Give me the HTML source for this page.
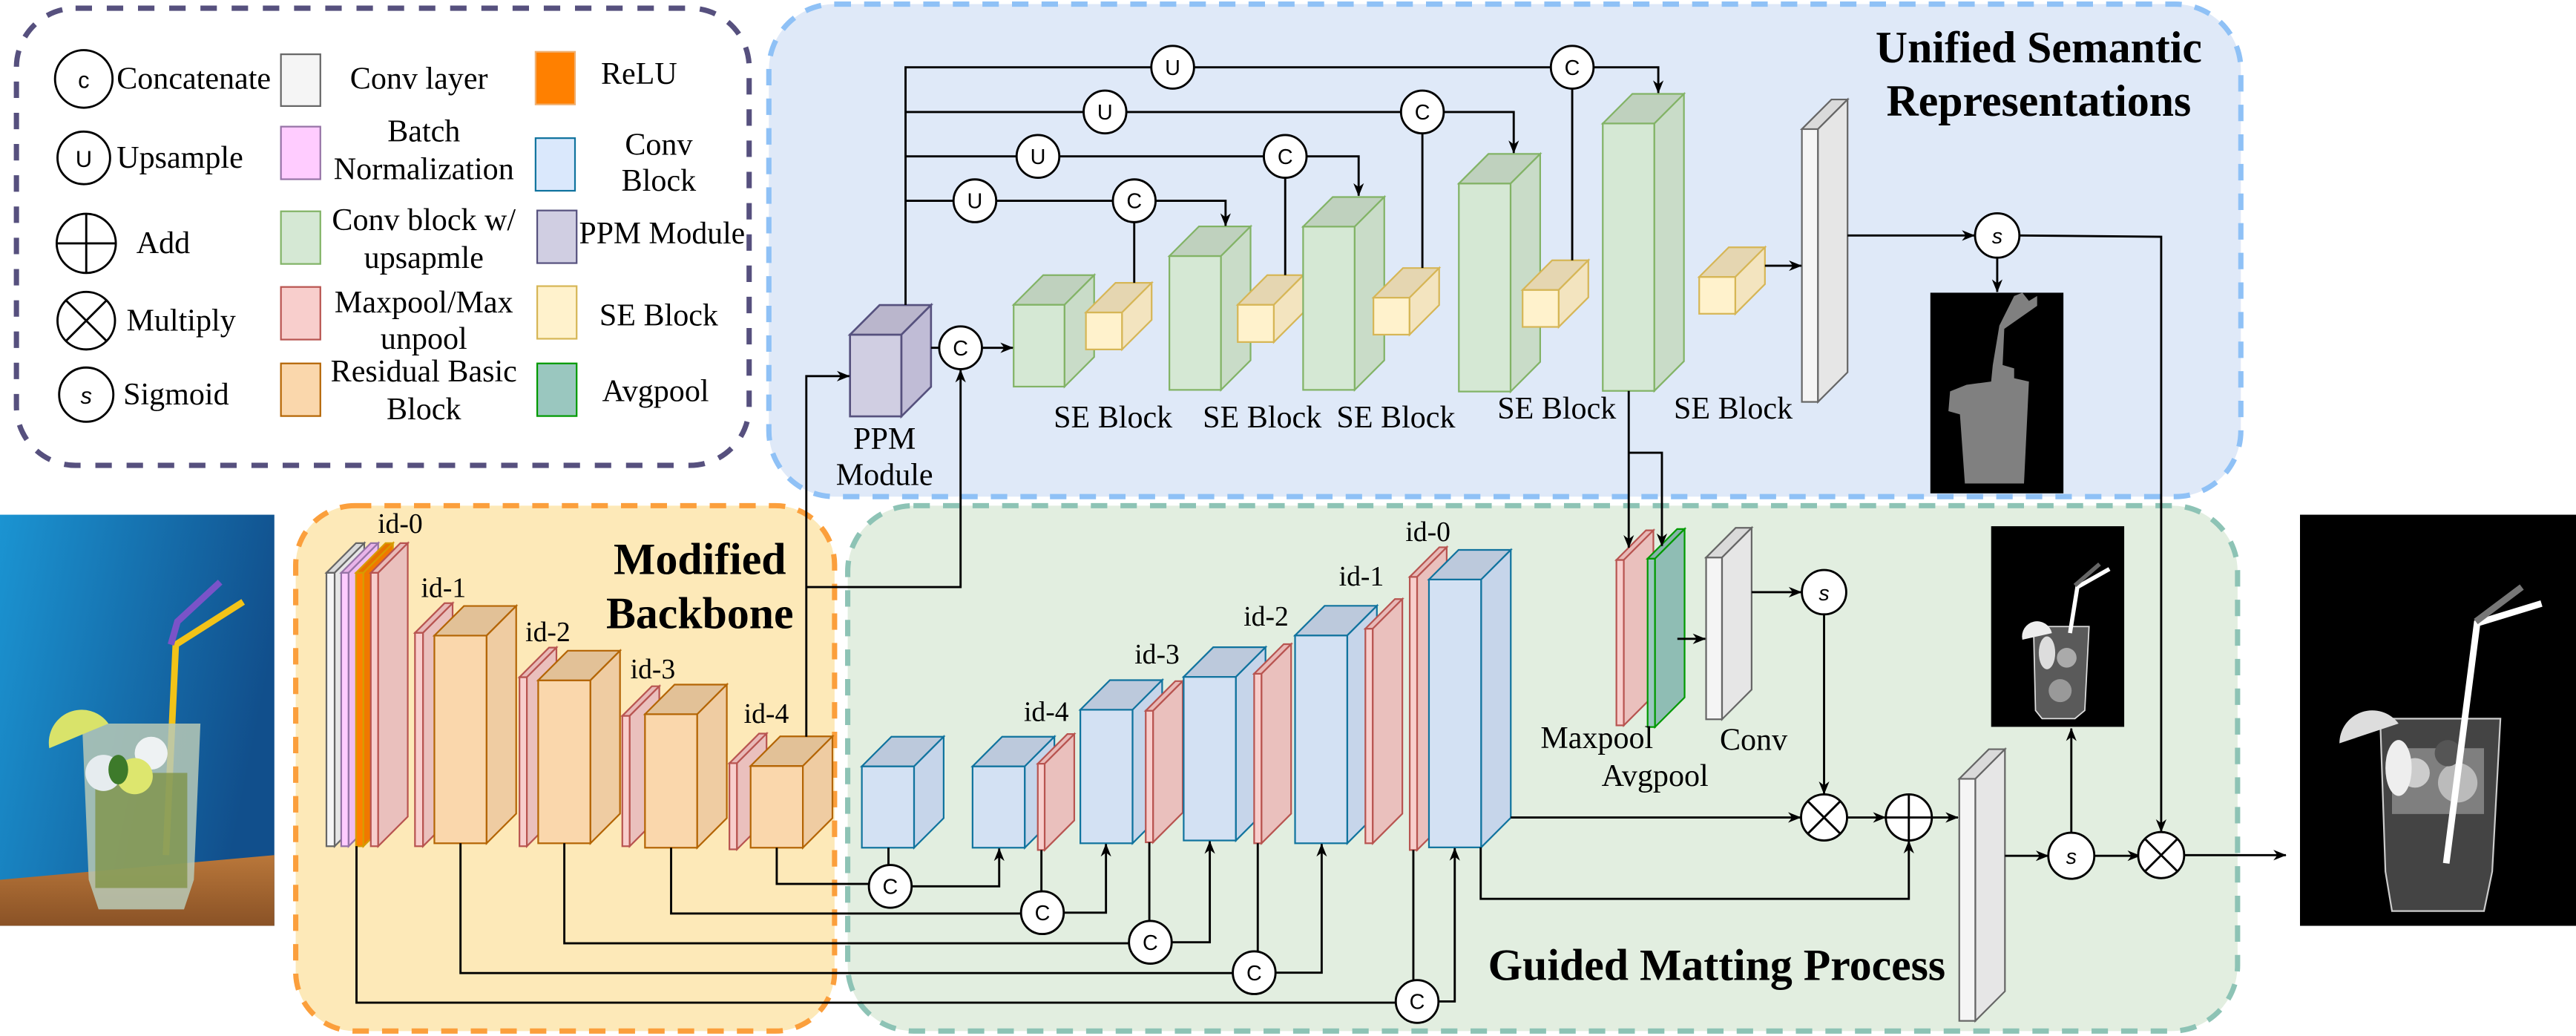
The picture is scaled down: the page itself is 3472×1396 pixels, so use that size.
<!DOCTYPE html>
<html><head><meta charset="utf-8">
<style>
html,body{margin:0;padding:0;background:#fff;}
svg{display:block;}
text{font-family:"Liberation Serif",serif;fill:#000;}
.sa{font-family:"Liberation Sans",sans-serif;}
.ln{fill:none;stroke:#000;stroke-width:1.3;}
.ci{fill:#fff;stroke:#000;stroke-width:1.3;}
.res .f{fill:#fad7ac}.res .t{fill:#e2c197}.res .s{fill:#efcca2}.res *{stroke:#b46504;stroke-width:1}
.red .f{fill:#f8cecc}.red .t{fill:#e8b9b7}.red .s{fill:#eac0bd}.red *{stroke:#b85450;stroke-width:1}
.blu .f{fill:#d3e1f3}.blu .t{fill:#bcc9dc}.blu .s{fill:#c6d5ea}.blu *{stroke:#10739e;stroke-width:1}
.grn .f{fill:#d5e8d4}.grn .t{fill:#bfd1be}.grn .s{fill:#c9dcc8}.grn *{stroke:#82b366;stroke-width:1}
.se .f{fill:#fff2cc}.se .t{fill:#e5d6b1}.se .s{fill:#f3e4bf}.se *{stroke:#d6b656;stroke-width:1}
.wht .f{fill:#f5f5f5}.wht .t{fill:#dadada}.wht .s{fill:#e6e6e6}.wht *{stroke:#666;stroke-width:1}
.pnk .f{fill:#ffccff}.pnk .t{fill:#e9b3e9}.pnk .s{fill:#f0bdf0}.pnk *{stroke:#9673a6;stroke-width:1}
.org .f{fill:#ff8000}.org .t{fill:#e67300}.org .s{fill:#f07800}.org *{stroke:#d79b00;stroke-width:1}
.ppm .f{fill:#d0cee2}.ppm .t{fill:#bab6cc}.ppm .s{fill:#c0bcd6}.ppm *{stroke:#56517e;stroke-width:1.2}
.avg .f{fill:#9ac7bf}.avg .t{fill:#86b3aa}.avg .s{fill:#8fbdb4}.avg *{stroke:#009900;stroke-width:1}
</style></head><body>
<svg width="3472" height="1396" viewBox="0 0 1568 630" preserveAspectRatio="none" xmlns="http://www.w3.org/2000/svg">
<defs>
<marker id="a" viewBox="0 0 10 8" refX="9.5" refY="4" markerWidth="8" markerHeight="7" markerUnits="userSpaceOnUse" orient="auto"><path d="M0,0 L10,4 L0,8 L3,4 z" fill="#000"/></marker>
<linearGradient id="bg" x1="0" y1="0" x2="1" y2="0.3"><stop offset="0" stop-color="#1b94d2"/><stop offset="1" stop-color="#114f8c"/></linearGradient>
<linearGradient id="wd" x1="0" y1="0" x2="0" y2="1"><stop offset="0" stop-color="#b9773a"/><stop offset="1" stop-color="#8a5226"/></linearGradient>
</defs>

<!-- region boxes -->
<rect x="468" y="2.5" width="896" height="299.5" rx="40" fill="#dfe9f8" stroke="#8fc1f6" stroke-width="3.2" stroke-dasharray="10,8"/>
<rect x="180" y="307.5" width="328" height="319.5" rx="36" fill="#fde9b8" stroke="#fb9f3c" stroke-width="3.2" stroke-dasharray="10,8"/>
<rect x="516" y="307.5" width="846" height="319.5" rx="40" fill="#e2eee0" stroke="#8dc3b5" stroke-width="3.2" stroke-dasharray="10,8"/>
<rect x="10" y="5" width="446" height="278" rx="36" fill="#fff" stroke="#56507e" stroke-width="3.2" stroke-dasharray="10,9"/>

<!-- legend -->
<g font-size="19">
<circle class="ci" cx="51" cy="48" r="17.5"/><text class="sa" x="51" y="53.5" font-size="14" text-anchor="middle">c</text>
<text x="71" y="54">Concatenate</text>
<circle class="ci" cx="51" cy="96" r="16"/><text class="sa" x="51" y="101.5" font-size="14" text-anchor="middle">U</text>
<text x="71" y="102">Upsample</text>
<circle class="ci" cx="52.5" cy="148" r="18"/><path class="ln" d="M34.5,148 H70.5 M52.5,130 V166"/>
<text x="83" y="154">Add</text>
<circle class="ci" cx="52.5" cy="195" r="17.5"/><path class="ln" d="M40.1,182.6 L64.9,207.4 M64.9,182.6 L40.1,207.4"/>
<text x="77" y="201">Multiply</text>
<circle class="ci" cx="52.5" cy="240" r="16.5"/><text class="sa" x="52.5" y="245.5" font-size="14" font-style="italic" text-anchor="middle">s</text>
<text x="75" y="246">Sigmoid</text>

<rect x="171" y="33" width="24" height="31.5" fill="#f5f5f5" stroke="#666" stroke-width="1"/>
<rect x="171" y="77" width="24" height="32" fill="#ffccff" stroke="#9673a6" stroke-width="1"/>
<rect x="171" y="128.5" width="24" height="32" fill="#d5e8d4" stroke="#82b366" stroke-width="1"/>
<rect x="171" y="174.5" width="24" height="32" fill="#f8cecc" stroke="#b85450" stroke-width="1"/>
<rect x="171" y="221" width="24" height="32" fill="#fad7ac" stroke="#b46504" stroke-width="1"/>
<g text-anchor="middle">
<text x="255" y="54">Conv layer</text>
<text x="258" y="86">Batch</text><text x="258" y="109">Normalization</text>
<text x="258" y="140">Conv block w/</text><text x="258" y="163">upsapmle</text>
<text x="258" y="190">Maxpool/Max</text><text x="258" y="212">unpool</text>
<text x="258" y="232">Residual Basic</text><text x="258" y="255">Block</text>
</g>
<rect x="326" y="31.5" width="24" height="32" fill="#ff8000" stroke="#f0b070" stroke-width="1"/>
<rect x="326" y="84" width="24" height="32" fill="#dae8fc" stroke="#10739e" stroke-width="1"/>
<rect x="327" y="128" width="24" height="32" fill="#d0cee2" stroke="#56517e" stroke-width="1"/>
<rect x="327" y="174" width="24" height="32" fill="#fff2cc" stroke="#d6b656" stroke-width="1"/>
<rect x="327" y="221" width="24" height="32" fill="#9ac7bf" stroke="#009900" stroke-width="1"/>
<g text-anchor="middle">
<text x="389" y="51">ReLU</text>
<text x="401" y="94">Conv</text><text x="401" y="116">Block</text>
<text x="403" y="148" textLength="101" lengthAdjust="spacingAndGlyphs">PPM Module</text>
<text x="401" y="198">SE Block</text>
<text x="399" y="244">Avgpool</text>
</g>
</g>

<!-- input photo -->
<rect x="0" y="313" width="167" height="250" fill="url(#bg)"/>
<polygon points="0,535 167,520 167,563 0,563" fill="url(#wd)"/>
<path d="M101,520 L107,392 L148,366" stroke="#f2c318" stroke-width="4" fill="none"/>
<path d="M104,392 L108,378 L134,354" stroke="#7a53c8" stroke-width="4" fill="none"/>
<polygon points="50,440 122,440 118,535 112,553 60,553 54,535" fill="#b9c9b6" opacity="0.85"/>
<rect x="58" y="470" width="56" height="70" fill="#7b8f3a" opacity="0.7"/>
<circle cx="63" cy="470" r="11" fill="#e6ecef"/><circle cx="92" cy="458" r="10" fill="#eef2f3"/>
<path d="M30,455 A20,20 0 0 1 66,440 Z" fill="#d9e36a"/>
<circle cx="82" cy="472" r="11" fill="#dde66e"/><ellipse cx="72" cy="468" rx="6" ry="9" fill="#3d7a2a"/>

<!-- backbone slabs -->
<g class="wht"><rect class="f" x="198.7" y="348.3" width="5" height="166.3"/><polygon class="t" points="198.7,348.3 216.7,330.3 221.7,330.3 203.7,348.3"/><polygon class="s" points="203.7,348.3 221.7,330.3 221.7,496.6 203.7,514.6"/></g>
<g class="pnk"><rect class="f" x="207.7" y="348.3" width="4.5" height="166.3"/><polygon class="t" points="207.7,348.3 225.7,330.3 230.2,330.3 212.2,348.3"/><polygon class="s" points="212.2,348.3 230.2,330.3 230.2,496.6 212.2,514.6"/></g>
<g class="org"><rect class="f" x="216.7" y="348.3" width="4.5" height="166.3"/><polygon class="t" points="216.7,348.3 234.7,330.3 239.2,330.3 221.2,348.3"/><polygon class="s" points="221.2,348.3 239.2,330.3 239.2,496.6 221.2,514.6"/></g>
<g class="red"><rect class="f" x="225.7" y="348.3" width="4.5" height="166.3"/><polygon class="t" points="225.7,348.3 243.7,330.3 248.2,330.3 230.2,348.3"/><polygon class="s" points="230.2,348.3 248.2,330.3 248.2,496.6 230.2,514.6"/></g>

<g class="red"><rect class="f" x="252.6" y="384.8" width="4.9" height="129.8"/><polygon class="t" points="252.6,384.8 270.6,366.8 275.5,366.8 257.5,384.8"/><polygon class="s" points="257.5,384.8 275.5,366.8 275.5,496.6 257.5,514.6"/></g>
<g class="res"><rect class="f" x="264.4" y="386.5" width="31.8" height="126.3"/><polygon class="t" points="264.4,386.5 282.4,368.5 314.2,368.5 296.2,386.5"/><polygon class="s" points="296.2,386.5 314.2,368.5 314.2,494.8 296.2,512.8"/></g>
<g class="red"><rect class="f" x="316.2" y="411.8" width="4.5" height="102.8"/><polygon class="t" points="316.2,411.8 334.2,393.8 338.7,393.8 320.7,411.8"/><polygon class="s" points="320.7,411.8 338.7,393.8 338.7,496.6 320.7,514.6"/></g>
<g class="res"><rect class="f" x="327.6" y="413.7" width="31.8" height="99.1"/><polygon class="t" points="327.6,413.7 345.6,395.7 377.4,395.7 359.4,413.7"/><polygon class="s" points="359.4,413.7 377.4,395.7 377.4,494.8 359.4,512.8"/></g>
<g class="red"><rect class="f" x="378.8" y="435.3" width="4.5" height="79.3"/><polygon class="t" points="378.8,435.3 396.8,417.3 401.3,417.3 383.3,435.3"/><polygon class="s" points="383.3,435.3 401.3,417.3 401.3,496.6 383.3,514.6"/></g>
<g class="res"><rect class="f" x="392.6" y="434.3" width="31.8" height="81.2"/><polygon class="t" points="392.6,434.3 410.6,416.3 442.4,416.3 424.4,434.3"/><polygon class="s" points="424.4,434.3 442.4,416.3 442.4,497.5 424.4,515.5"/></g>
<g class="red"><rect class="f" x="444" y="464.1" width="4.6" height="52.4"/><polygon class="t" points="444,464.1 462,446.1 466.6,446.1 448.6,464.1"/><polygon class="s" points="448.6,464.1 466.6,446.1 466.6,498.5 448.6,516.5"/></g>
<g class="res"><rect class="f" x="456.9" y="465.8" width="31.8" height="49.7"/><polygon class="t" points="456.9,465.8 474.9,447.8 506.7,447.8 488.7,465.8"/><polygon class="s" points="488.7,465.8 506.7,447.8 506.7,497.5 488.7,515.5"/></g>

<g font-size="17" text-anchor="middle">
<text x="243.6" y="324">id-0</text><text x="270" y="363">id-1</text><text x="333.5" y="390">id-2</text><text x="397.4" y="412.5">id-3</text><text x="466.5" y="439.5">id-4</text>
<text x="636.9" y="438.5">id-4</text><text x="704.3" y="403.5">id-3</text><text x="770.7" y="380.5">id-2</text><text x="828.7" y="356">id-1</text><text x="869.2" y="329">id-0</text>
</g>
<g font-size="27" font-weight="bold" text-anchor="middle">
<text x="426" y="349">Modified</text><text x="426" y="382">Backbone</text>
<text x="1241" y="38">Unified  Semantic</text><text x="1241" y="70.5">Representations</text>
<text x="1045" y="596">Guided Matting Process</text>
</g>

<!-- decoder blocks -->
<g class="blu"><rect class="f" x="524.6" y="466" width="31.8" height="49.5"/><polygon class="t" points="524.6,466 542.6,448 574.4,448 556.4,466"/><polygon class="s" points="556.4,466 574.4,448 574.4,497.5 556.4,515.5"/></g>
<g class="blu"><rect class="f" x="592" y="466" width="31.8" height="49.5"/><polygon class="t" points="592,466 610,448 641.8,448 623.8,466"/><polygon class="s" points="623.8,466 641.8,448 641.8,497.5 623.8,515.5"/></g>
<g class="red"><rect class="f" x="631.7" y="464.4" width="4.2" height="52.5"/><polygon class="t" points="631.7,464.4 649.7,446.4 653.9,446.4 635.9,464.4"/><polygon class="s" points="635.9,464.4 653.9,446.4 653.9,498.9 635.9,516.9"/></g>
<g class="blu"><rect class="f" x="657.6" y="431.6" width="31.8" height="81.2"/><polygon class="t" points="657.6,431.6 675.6,413.6 707.4,413.6 689.4,431.6"/><polygon class="s" points="689.4,431.6 707.4,413.6 707.4,494.8 689.4,512.8"/></g>
<g class="red"><rect class="f" x="697.4" y="432.2" width="4.5" height="80"/><polygon class="t" points="697.4,432.2 715.4,414.2 719.9,414.2 701.9,432.2"/><polygon class="s" points="701.9,432.2 719.9,414.2 719.9,494.2 701.9,512.2"/></g>
<g class="blu"><rect class="f" x="720.5" y="411.6" width="31.8" height="99.5"/><polygon class="t" points="720.5,411.6 738.5,393.6 770.3,393.6 752.3,411.6"/><polygon class="s" points="752.3,411.6 770.3,393.6 770.3,493.1 752.3,511.1"/></g>
<g class="red"><rect class="f" x="763.4" y="409.7" width="4.5" height="103.1"/><polygon class="t" points="763.4,409.7 781.4,391.7 785.9,391.7 767.9,409.7"/><polygon class="s" points="767.9,409.7 785.9,391.7 785.9,494.8 767.9,512.8"/></g>
<g class="blu"><rect class="f" x="788.3" y="386.4" width="31.8" height="126.4"/><polygon class="t" points="788.3,386.4 806.3,368.4 838.1,368.4 820.1,386.4"/><polygon class="s" points="820.1,386.4 838.1,368.4 838.1,494.8 820.1,512.8"/></g>
<g class="red"><rect class="f" x="831.1" y="382.3" width="4.5" height="130.5"/><polygon class="t" points="831.1,382.3 849.1,364.3 853.6,364.3 835.6,382.3"/><polygon class="s" points="835.6,382.3 853.6,364.3 853.6,494.8 835.6,512.8"/></g>
<g class="red"><rect class="f" x="858.1" y="350.8" width="4.5" height="166.1"/><polygon class="t" points="858.1,350.8 876.1,332.8 880.6,332.8 862.6,350.8"/><polygon class="s" points="862.6,350.8 880.6,332.8 880.6,498.9 862.6,516.9"/></g>
<g class="blu"><rect class="f" x="869.8" y="352.4" width="31.8" height="162.9"/><polygon class="t" points="869.8,352.4 887.8,334.4 919.6,334.4 901.6,352.4"/><polygon class="s" points="901.6,352.4 919.6,334.4 919.6,497.3 901.6,515.3"/></g>

<g class="red"><rect class="f" x="983.9" y="340.5" width="4.5" height="100.6"/><polygon class="t" points="983.9,340.5 1001.9,322.5 1006.4,322.5 988.4,340.5"/><polygon class="s" points="988.4,340.5 1006.4,322.5 1006.4,423.1 988.4,441.1"/></g>
<g class="avg"><rect class="f" x="1002.9" y="339.7" width="4.5" height="102.4"/><polygon class="t" points="1002.9,339.7 1020.9,321.7 1025.4,321.7 1007.4,339.7"/><polygon class="s" points="1007.4,339.7 1025.4,321.7 1025.4,424.1 1007.4,442.1"/></g>
<g class="wht"><rect class="f" x="1038.5" y="339" width="9.7" height="98.4"/><polygon class="t" points="1038.5,339 1056.5,321 1066.2,321 1048.2,339"/><polygon class="s" points="1048.2,339 1066.2,321 1066.2,419.4 1048.2,437.4"/></g>
<g class="wht"><rect class="f" x="1192.6" y="473.6" width="9.8" height="147.2"/><polygon class="t" points="1192.6,473.6 1210.6,455.6 1220.4,455.6 1202.4,473.6"/><polygon class="s" points="1202.4,473.6 1220.4,455.6 1220.4,602.8 1202.4,620.8"/></g>
<g font-size="19" text-anchor="middle">
<text x="972" y="455">Maxpool</text><text x="1007.4" y="478">Avgpool</text><text x="1067.4" y="456">Conv</text>
</g>

<!-- USR blocks -->
<g class="ppm"><rect class="f" x="517.4" y="203.5" width="31.3" height="49.7"/><polygon class="t" points="517.4,203.5 535.4,185.5 566.7,185.5 548.7,203.5"/><polygon class="s" points="548.7,203.5 566.7,185.5 566.7,235.2 548.7,253.2"/></g>
<g class="grn"><rect class="f" x="617" y="185.3" width="31" height="49.8"/><polygon class="t" points="617,185.3 635,167.3 666,167.3 648,185.3"/><polygon class="s" points="648,185.3 666,167.3 666,217.1 648,235.1"/></g>
<g class="se"><rect class="f" x="661" y="190" width="22" height="22.5"/><polygon class="t" points="661,190 679,172 701,172 683,190"/><polygon class="s" points="683,190 701,172 701,194.5 683,212.5"/></g>
<g class="grn"><rect class="f" x="711.8" y="155.7" width="31.4" height="81.4"/><polygon class="t" points="711.8,155.7 729.8,137.7 761.2,137.7 743.2,155.7"/><polygon class="s" points="743.2,155.7 761.2,137.7 761.2,219.1 743.2,237.1"/></g>
<g class="se"><rect class="f" x="753.4" y="185.3" width="22" height="22.7"/><polygon class="t" points="753.4,185.3 771.4,167.3 793.4,167.3 775.4,185.3"/><polygon class="s" points="775.4,185.3 793.4,167.3 793.4,190 775.4,208"/></g>
<g class="grn"><rect class="f" x="793.2" y="137.8" width="31.4" height="99.3"/><polygon class="t" points="793.2,137.8 811.2,119.8 842.6,119.8 824.6,137.8"/><polygon class="s" points="824.6,137.8 842.6,119.8 842.6,219.1 824.6,237.1"/></g>
<g class="se"><rect class="f" x="836" y="181" width="22" height="22.5"/><polygon class="t" points="836,181 854,163 876,163 858,181"/><polygon class="s" points="858,181 876,163 876,185.5 858,203.5"/></g>
<g class="grn"><rect class="f" x="888" y="111.6" width="31.5" height="126.5"/><polygon class="t" points="888,111.6 906,93.6 937.5,93.6 919.5,111.6"/><polygon class="s" points="919.5,111.6 937.5,93.6 937.5,220.1 919.5,238.1"/></g>
<g class="se"><rect class="f" x="926.8" y="176.3" width="22" height="22.5"/><polygon class="t" points="926.8,176.3 944.8,158.3 966.8,158.3 948.8,176.3"/><polygon class="s" points="948.8,176.3 966.8,158.3 966.8,180.8 948.8,198.8"/></g>
<g class="grn"><rect class="f" x="975.6" y="75.1" width="31.4" height="162.6"/><polygon class="t" points="975.6,75.1 993.6,57.1 1025,57.1 1007,75.1"/><polygon class="s" points="1007,75.1 1025,57.1 1025,219.7 1007,237.7"/></g>
<g class="se"><rect class="f" x="1034.3" y="168.4" width="22" height="22.4"/><polygon class="t" points="1034.3,168.4 1052.3,150.4 1074.3,150.4 1056.3,168.4"/><polygon class="s" points="1056.3,168.4 1074.3,150.4 1074.3,172.8 1056.3,190.8"/></g>
<g class="wht"><rect class="f" x="1096.8" y="78.5" width="9.8" height="165.9"/><polygon class="t" points="1096.8,78.5 1114.8,60.5 1124.6,60.5 1106.6,78.5"/><polygon class="s" points="1106.6,78.5 1124.6,60.5 1124.6,226.4 1106.6,244.4"/></g>
<g font-size="19" text-anchor="middle">
<text x="677.5" y="260">SE Block</text><text x="768.3" y="260">SE Block</text><text x="849.7" y="260">SE Block</text><text x="947.6" y="254.5">SE Block</text><text x="1055" y="254.5">SE Block</text>
<text x="538.4" y="273">PPM</text><text x="538.4" y="295">Module</text>
</g>

<!-- trimap -->
<rect x="1175" y="178" width="81" height="122" fill="#000"/>
<path d="M1197,234 L1187,238 L1186,250 L1193,252 L1196,294 L1232,294 L1235,232 L1226,230 L1226,224 L1219,222 L1220,200 L1240,186 L1240,180 L1235,183 L1231,178 L1226,180 L1217,198 L1213,222 L1212,232 Z" fill="#808080"/>

<!-- small matte -->
<rect x="1212" y="320" width="81" height="122" fill="#000"/>
<path d="M1237.8,381 L1271.6,381 L1269,432 L1263,437 L1243,437 L1239,432 Z" fill="#5a5a5a" stroke="#ddd" stroke-width="0.8"/>
<path d="M1260,385 L1264.5,357 L1284,346" stroke="#fff" stroke-width="2.5" fill="none"/>
<path d="M1263,356 L1278,343" stroke="#666" stroke-width="2.5" fill="none"/>
<path d="M1231,389 A9,9 0 0 1 1249,385 Z" fill="#eee"/>
<ellipse cx="1246" cy="397" rx="5" ry="10" fill="#ddd"/><circle cx="1258" cy="400" r="6" fill="#aaa"/><circle cx="1254" cy="420" r="7" fill="#999"/>

<!-- output image -->
<rect x="1400" y="313" width="168" height="250" fill="#000"/>
<path d="M1448.8,437 L1522,437 L1517,530 L1512,554 L1456,554 L1452,530 Z" fill="#444" stroke="#ccc" stroke-width="1"/>
<rect x="1456" y="455" width="56" height="40" fill="#999" opacity="0.7"/>
<circle cx="1470" cy="470" r="9" fill="#ccc"/><ellipse cx="1460" cy="467" rx="8" ry="17" fill="#eee"/>
<circle cx="1496" cy="476" r="12" fill="#bbb"/><circle cx="1490" cy="458" r="8" fill="#555"/>
<path d="M1489,525 L1507.8,379 L1547,367" stroke="#fff" stroke-width="4" fill="none"/>
<path d="M1507,378 L1535,357" stroke="#777" stroke-width="4" fill="none"/>
<path d="M1424,452 A20,20 0 0 1 1460,440 Z" fill="#ddd"/>

<!-- connectors: USR -->
<path class="ln" d="M551.2,185.5 V40.9 H700.8 M726.8,40.9 H944 M970,40.9 H1009.4 V56.5" marker-end="url(#a)"/>
<path class="ln" d="M551.2,68.1 H659.6 M685.6,68.1 H852.8 M878.8,68.1 H921.4 V93" marker-end="url(#a)"/>
<path class="ln" d="M551.2,95.1 H618.8 M644.8,95.1 H769.3 M795.3,95.1 H827 V119" marker-end="url(#a)"/>
<path class="ln" d="M551.2,122.1 H580.4 M606.4,122.1 H677.4 M703.4,122.1 H746 V137.3" marker-end="url(#a)"/>
<path class="ln" d="M690.4,135 V172 M782.3,108 V167.3 M865.8,81 V163 M957,54 V158.3"/>
<g font-size="13" text-anchor="middle" class="sa">
<circle class="ci" cx="713.8" cy="40.9" r="13"/><text class="sa" x="713.8" y="45.5">U</text>
<circle class="ci" cx="672.6" cy="68.1" r="13"/><text class="sa" x="672.6" y="72.7">U</text>
<circle class="ci" cx="631.8" cy="95.1" r="13"/><text class="sa" x="631.8" y="99.7">U</text>
<circle class="ci" cx="593.4" cy="122.1" r="13"/><text class="sa" x="593.4" y="126.7">U</text>
<circle class="ci" cx="957" cy="40.9" r="13"/><text class="sa" x="957" y="45.5">C</text>
<circle class="ci" cx="865.8" cy="68.1" r="13"/><text class="sa" x="865.8" y="72.7">C</text>
<circle class="ci" cx="782.3" cy="95.1" r="13"/><text class="sa" x="782.3" y="99.7">C</text>
<circle class="ci" cx="690.4" cy="122.1" r="13"/><text class="sa" x="690.4" y="126.7">C</text>
</g>
<path class="ln" d="M566.7,211.5 H571.7"/>
<path class="ln" d="M597.7,211.5 H616.5" marker-end="url(#a)"/>
<circle class="ci" cx="584.7" cy="211.5" r="13"/><text class="sa" x="584.7" y="216.1" font-size="13" text-anchor="middle">C</text>
<path class="ln" d="M490.8,448 V228.7 H517" marker-end="url(#a)"/>
<path class="ln" d="M490.8,357 H584.7 V225" marker-end="url(#a)"/>
<path class="ln" d="M1074.3,161.6 H1096.5" marker-end="url(#a)"/>
<path class="ln" d="M1124.6,143.2 H1201.8" marker-end="url(#a)"/>
<path class="ln" d="M1215.7,157 V177.5" marker-end="url(#a)"/>
<path class="ln" d="M1229.6,143.2 L1315.5,144 V505.8" marker-end="url(#a)"/>
<circle class="ci" cx="1215.7" cy="143.2" r="13.5"/><text class="sa" x="1215.7" y="148" font-size="13" font-style="italic" text-anchor="middle">s</text>

<!-- connectors: GMP -->
<path class="ln" d="M991.4,237.7 V333" marker-end="url(#a)"/>
<path class="ln" d="M991.4,275.3 H1011.6 V332" marker-end="url(#a)"/>
<path class="ln" d="M1021,388.5 H1038" marker-end="url(#a)"/>
<path class="ln" d="M1066.2,360.1 H1096.4" marker-end="url(#a)"/>
<path class="ln" d="M1110.3,373.8 V482.8" marker-end="url(#a)"/>
<path class="ln" d="M919.6,497.1 H1096" marker-end="url(#a)"/>
<path class="ln" d="M1124.3,497.1 H1147.7" marker-end="url(#a)"/>
<path class="ln" d="M1175.9,497.1 H1191.8" marker-end="url(#a)"/>
<path class="ln" d="M901.3,515.3 V546.6 H1161.9 V511.4" marker-end="url(#a)"/>
<path class="ln" d="M1220.4,520.4 H1246.8" marker-end="url(#a)"/>
<path class="ln" d="M1274.8,520.4 H1302.6" marker-end="url(#a)"/>
<path class="ln" d="M1260.8,506.4 V443" marker-end="url(#a)"/>
<path class="ln" d="M1329.5,520 H1391.4" marker-end="url(#a)"/>
<circle class="ci" cx="1110.3" cy="360.1" r="13.5"/><text class="sa" x="1110.3" y="365" font-size="13" font-style="italic" text-anchor="middle">s</text>
<circle class="ci" cx="1110.3" cy="497.1" r="14"/><path class="ln" d="M1100.4,487.2 L1120.2,507 M1120.2,487.2 L1100.4,507"/>
<circle class="ci" cx="1161.9" cy="497.1" r="14"/><path class="ln" d="M1147.9,497.1 H1175.9 M1161.9,483.1 V511.1"/>
<circle class="ci" cx="1260.8" cy="520.4" r="14"/><text class="sa" x="1260.8" y="525.3" font-size="13" font-style="italic" text-anchor="middle">s</text>
<circle class="ci" cx="1315.5" cy="520" r="14"/><path class="ln" d="M1305.6,510.1 L1325.4,529.9 M1325.4,510.1 L1305.6,529.9"/>

<!-- skip connections -->
<path class="ln" d="M472.8,515.5 V537.5 H528.9"/>
<path class="ln" d="M540.8,515.5 V526"/>
<path class="ln" d="M554.9,539 H608.2 V516" marker-end="url(#a)"/>
<path class="ln" d="M408.5,515.5 V555.5 H621.5"/>
<path class="ln" d="M633.9,516.9 V542"/>
<path class="ln" d="M647.5,555 H673.2 V513.3" marker-end="url(#a)"/>
<path class="ln" d="M343.5,512.8 V573.6 H687.2"/>
<path class="ln" d="M699.6,512.2 V560"/>
<path class="ln" d="M713.2,573 H736.4 V511.6" marker-end="url(#a)"/>
<path class="ln" d="M280.3,512.8 V591.7 H750.4"/>
<path class="ln" d="M765.6,512.8 V578.5"/>
<path class="ln" d="M776.4,591.5 H804.5 V513.3" marker-end="url(#a)"/>
<path class="ln" d="M217,514.6 V609.7 H849.6"/>
<path class="ln" d="M860.3,516.9 V596"/>
<path class="ln" d="M875.6,609 H885.5 V515.8" marker-end="url(#a)"/>
<g font-size="13" text-anchor="middle">
<circle class="ci" cx="541.9" cy="539" r="13"/><text class="sa" x="541.9" y="543.6">C</text>
<circle class="ci" cx="634.5" cy="555" r="13"/><text class="sa" x="634.5" y="559.6">C</text>
<circle class="ci" cx="700.2" cy="573" r="13"/><text class="sa" x="700.2" y="577.6">C</text>
<circle class="ci" cx="763.4" cy="591.5" r="13"/><text class="sa" x="763.4" y="596.1">C</text>
<circle class="ci" cx="862.6" cy="609" r="13"/><text class="sa" x="862.6" y="613.6">C</text>
</g>
</svg>
</body></html>
